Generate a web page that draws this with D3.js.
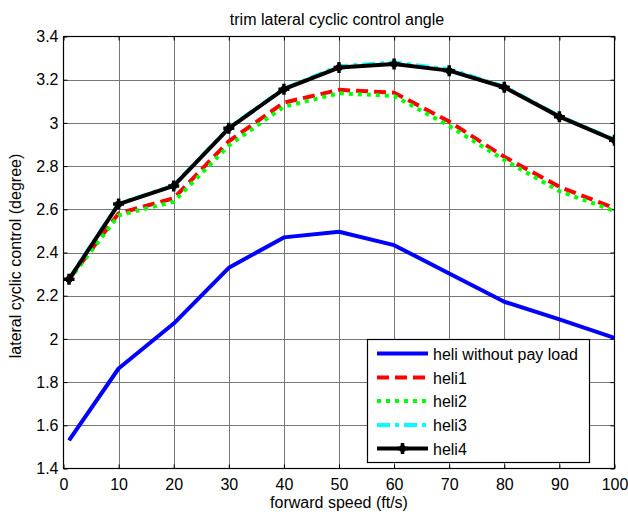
<!DOCTYPE html>
<html><head><meta charset="utf-8">
<script src="https://cdn.jsdelivr.net/npm/d3@7"></script>
<style>body{margin:0;background:#fff}svg{display:block}text{font-family:"Liberation Sans",Arial,sans-serif;fill:#000}</style>
</head><body>
<svg id="c" width="628" height="514"></svg>
<script>
const speeds = [1, 10, 20, 30, 40, 50, 60, 70, 80, 90, 100];
const heliNoLoad = [1.53, 1.863, 2.071, 2.329, 2.470, 2.496, 2.434, 2.303, 2.172, 2.090, 2.005];
const heli1 = [2.275, 2.581, 2.651, 2.915, 3.094, 3.153, 3.140, 3.006, 2.843, 2.704, 2.605];
const heli2 = [2.272, 2.572, 2.635, 2.895, 3.075, 3.137, 3.125, 2.986, 2.828, 2.684, 2.592];
const heli3 = [2.278, 2.625, 2.710, 2.977, 3.158, 3.262, 3.280, 3.248, 3.168, 3.031, 2.922];
const heli4 = [2.276, 2.624, 2.708, 2.975, 3.156, 3.256, 3.273, 3.242, 3.165, 3.029, 2.920];
const xTicks = [0, 10, 20, 30, 40, 50, 60, 70, 80, 90, 100];
const yTicks = [1.4, 1.6, 1.8, 2, 2.2, 2.4, 2.6, 2.8, 3, 3.2, 3.4];
const seriesNames = ["heli without pay load", "heli1", "heli2", "heli3", "heli4"];
const title = "trim lateral cyclic control angle";
const xLabel = "forward speed (ft/s)";
const yLabel = "lateral cyclic control (degree)";

const series = [
  {name: seriesNames[0], values: heliNoLoad, color: "#0000ff", dash: null},
  {name: seriesNames[1], values: heli1, color: "#ff0000", dash: "12,6"},
  {name: seriesNames[2], values: heli2, color: "#00ff00", dash: "4,5"},
  {name: seriesNames[3], values: heli3, color: "#00ffff", dash: "13,5,4,5"},
  {name: seriesNames[4], values: heli4, color: "#000000", dash: null, marker: true}
];

const FS = "16px";
const svg = d3.select("#c");
const L = 63.5, R = 614.5, T = 36.5, B = 468.5;
const x = d3.scaleLinear().domain([0, 100]).range([L, R]);
const y = d3.scaleLinear().domain([1.4, 3.4]).range([B, T]);

// grid
const g = svg.append("g");
g.selectAll(".gx").data(xTicks.slice(1, -1)).enter().append("line")
  .attr("x1", d => Math.round(x(d)) + 0.5).attr("x2", d => Math.round(x(d)) + 0.5)
  .attr("y1", T).attr("y2", B).attr("stroke", "#777").attr("stroke-width", 1);
g.selectAll(".gy").data(yTicks.slice(1, -1)).enter().append("line")
  .attr("y1", d => Math.round(y(d)) + 0.5).attr("y2", d => Math.round(y(d)) + 0.5)
  .attr("x1", L).attr("x2", R).attr("stroke", "#777").attr("stroke-width", 1);

// axes with inward ticks
const ax = d3.axisBottom(x).tickValues(xTicks).tickSize(-4).tickPadding(10).tickFormat(d3.format("d"));
const ay = d3.axisLeft(y).tickValues(yTicks).tickSize(-4).tickPadding(5).tickFormat(d => d3.format("")(+d.toFixed(1)));
const ax2 = d3.axisTop(x).tickValues(xTicks).tickSize(-4).tickFormat("");
const ay2 = d3.axisRight(y).tickValues(yTicks).tickSize(-4).tickFormat("");
function style(sel){ sel.select(".domain").remove(); sel.selectAll("text").style("font-size",FS).style("font-family","'Liberation Sans',Arial,sans-serif"); sel.selectAll("line").attr("stroke","#000"); }
svg.append("g").attr("transform", `translate(0,${B})`).call(ax).call(style);
svg.append("g").attr("transform", `translate(${L},0)`).call(ay).call(style);
svg.append("g").attr("transform", `translate(0,${T})`).call(ax2).call(style);
svg.append("g").attr("transform", `translate(${R},0)`).call(ay2).call(style);

svg.append("rect").attr("x", L).attr("y", T).attr("width", R - L).attr("height", B - T)
  .attr("fill", "none").attr("stroke", "#000").attr("stroke-width", 1.2);

// lines
const line = d3.line().x((d, i) => x(speeds[i])).y(d => y(d));
svg.append("clipPath").attr("id", "pc").append("rect").attr("x", L).attr("y", T).attr("width", R - L).attr("height", B - T);
const pl = svg.append("g").attr("clip-path", "url(#pc)");
series.forEach(s => {
  pl.append("path").datum(s.values).attr("d", line).attr("fill", "none")
    .attr("stroke", s.color).attr("stroke-width", 4)
    .attr("stroke-dasharray", s.dash).attr("stroke-linejoin", "round");
});
const s4 = series[4];
pl.selectAll(".mk").data(s4.values).enter().append("path")
  .attr("d", (d, i) => { const cx = x(speeds[i]), cy = y(d), r = 5.5; return `M${cx - r},${cy}H${cx + r}M${cx},${cy - r}V${cy + r}`; })
  .attr("stroke", "#000").attr("stroke-width", 3.5).attr("fill", "none");
pl.selectAll(".mk2").data(s4.values).enter().append("circle")
  .attr("cx", (d, i) => x(speeds[i])).attr("cy", d => y(d)).attr("r", 3.5).attr("fill", "#000");

// labels
svg.append("text").attr("x", 337).attr("y", 25).attr("text-anchor", "middle").style("font-size", FS).text(title);
svg.append("text").attr("x", 339).attr("y", 508).attr("text-anchor", "middle").style("font-size", FS).text(xLabel);
svg.append("text").attr("transform", "translate(21,256) rotate(-90)").attr("text-anchor", "middle").style("font-size", FS).text(yLabel);

// legend
const lg = svg.append("g");
lg.append("rect").attr("x", 367.5).attr("y", 339.5).attr("width", 222).attr("height", 123)
  .attr("fill", "#fff").attr("stroke", "#000").attr("stroke-width", 1.2);
const rowY = [353.5, 377.5, 401, 425, 448.5];
series.forEach((s, i) => {
  lg.append("line").attr("x1", 377).attr("x2", 428).attr("y1", rowY[i]).attr("y2", rowY[i])
    .attr("stroke", s.color).attr("stroke-width", 4).attr("stroke-dasharray", s.dash);
  if (s.marker) {
    lg.append("path").attr("d", `M${402.5 - 5.5},${rowY[i]}H${402.5 + 5.5}M402.5,${rowY[i] - 5.5}V${rowY[i] + 5.5}`)
      .attr("stroke", "#000").attr("stroke-width", 3.5);
    lg.append("circle").attr("cx", 402.5).attr("cy", rowY[i]).attr("r", 3.5).attr("fill", "#000");
  }
  lg.append("text").attr("x", 433).attr("y", rowY[i] + 6).style("font-size", FS).text(s.name);
});
</script>
</body></html>
